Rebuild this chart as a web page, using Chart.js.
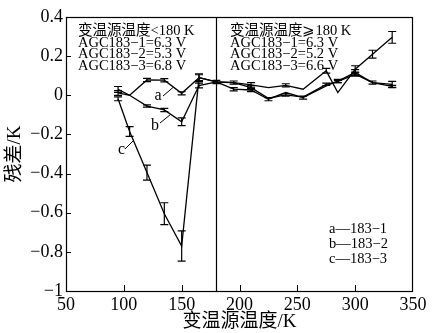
<!DOCTYPE html>
<html>
<head>
<meta charset="utf-8">
<script src="https://cdn.jsdelivr.net/npm/chart.js@4.4.0/dist/chart.umd.min.js"></script>
<style>
  body { margin: 0; background: #fff; }
  #wrap { width: 432px; height: 333px; }
</style>
</head>
<body>
<div id="wrap"><canvas id="myChart"></canvas></div>
<script>
// temperatures of the variable-temperature source (K)
var temps = [95, 105, 120, 135, 150, 165, 180, 195, 210, 225, 240, 255, 275, 285, 300, 315, 332];

// residuals (K)
var resA = [0.03, 0, 0.078, 0.077, 0.01, 0.09, 0.068, 0.031, 0.027, -0.02, 0.014, -0.012, 0.048, 0.073, 0.116, 0.065, 0.056];
var resB = [0.012, 0, -0.055, -0.075, -0.135, 0.05, 0.068, 0.065, 0.039, -0.015, 0.002, -0.009, 0.056, 0.07, 0.108, 0.065, 0.045];
var resC = [-0.018, -0.185, -0.395, -0.605, -0.77, 0.09, 0.068, 0.065, 0.053, 0.039, 0.051, 0.031, 0.125, 0.014, 0.133, 0.21, 0.296];

// error bar half widths
var errA = [0.015, 0, 0.008, 0.008, 0.008, 0.015, 0.008, 0.008, 0.008, 0.008, 0, 0.008, 0, 0.008, 0.015, 0.008, 0.015];
var errB = [0.012, 0, 0.006, 0.008, 0.02, 0.012, 0, 0.008, 0.01, 0, 0.006, 0, 0.006, 0.006, 0.01, 0, 0.006];
var errC = [0.01, 0.025, 0.038, 0.056, 0.077, 0.02, 0, 0, 0.012, 0, 0.008, 0, 0.012, 0, 0.018, 0.02, 0.03];

var xTicks = [50, 100, 150, 200, 250, 300, 350];
var yTicks = [0.4, 0.2, 0, -0.2, -0.4, -0.6, -0.8, -1];
var splitTemp = 180;

var boxLeft = ['变温源温度<180 K', 'AGC183−1=6.3 V', 'AGC183−2=5.3 V', 'AGC183−3=6.8 V'];
var boxRight = ['变温源温度⩾180 K', 'AGC183−1=6.3 V', 'AGC183−2=5.2 V', 'AGC183−3=6.6 V'];
var legendRows = ['a—183−1', 'b—183−2', 'c—183−3'];

var FONT = "'Liberation Serif', 'Noto Sans CJK SC', serif";

function pts(vals) {
  return temps.map(function (t, i) { return { x: t, y: vals[i] }; });
}
function fmt(v) {
  var r = Math.round(v * 10) / 10;
  if (r === 0) return '0';
  return (r < 0 ? '−' : '') + String(Math.abs(r));
}

var errs = [errA, errB, errC];

var decor = {
  id: 'decor',
  afterDatasetsDraw: function (chart) {
    var ctx = chart.ctx;
    var a = chart.chartArea;
    var xs = chart.scales.x, ys = chart.scales.y;
    ctx.save();
    ctx.strokeStyle = '#000';
    ctx.fillStyle = '#000';
    ctx.lineWidth = 1.2;
    // frame
    ctx.strokeRect(a.left + 0.5, a.top + 0.5, a.right - a.left - 1, a.bottom - a.top);
    // split line
    var sx = Math.round(xs.getPixelForValue(splitTemp)) + 0.5;
    ctx.beginPath(); ctx.moveTo(sx, a.top); ctx.lineTo(sx, a.bottom); ctx.stroke();
    // inward ticks
    ctx.lineWidth = 1;
    xTicks.forEach(function (t) {
      if (t === 50 || t === 350) return;
      var x = Math.round(xs.getPixelForValue(t)) + 0.5;
      ctx.beginPath(); ctx.moveTo(x, a.bottom); ctx.lineTo(x, a.bottom - 6); ctx.stroke();
    });
    yTicks.forEach(function (v) {
      if (v === 0.4 || v === -1) return;
      var y = Math.round(ys.getPixelForValue(v)) + 0.5;
      ctx.beginPath(); ctx.moveTo(a.left, y); ctx.lineTo(a.left + 5, y); ctx.stroke();
    });
    // error bars
    ctx.lineWidth = 1.2;
    chart.data.datasets.forEach(function (ds, i) {
      ds.data.forEach(function (p, j) {
        var e = errs[i][j];
        if (!e) return;
        var x = xs.getPixelForValue(p.x);
        var y1 = ys.getPixelForValue(p.y + e);
        var y2 = ys.getPixelForValue(p.y - e);
        ctx.beginPath();
        ctx.moveTo(x, y1); ctx.lineTo(x, y2);
        ctx.moveTo(x - 4, y1); ctx.lineTo(x + 4, y1);
        ctx.moveTo(x - 4, y2); ctx.lineTo(x + 4, y2);
        ctx.stroke();
      });
    });
    // curve labels with leader lines
    ctx.lineWidth = 1;
    ctx.font = '16px ' + FONT;
    ctx.textAlign = 'center';
    ctx.textBaseline = 'alphabetic';
    ctx.fillText('a', 158, 100);
    ctx.beginPath(); ctx.moveTo(163, 96); ctx.lineTo(173, 87.5); ctx.stroke();
    ctx.fillText('b', 155, 130);
    ctx.beginPath(); ctx.moveTo(160, 123); ctx.lineTo(170.5, 114.5); ctx.stroke();
    ctx.fillText('c', 121.5, 154);
    ctx.beginPath(); ctx.moveTo(125, 149); ctx.lineTo(133.5, 140.5); ctx.stroke();
    // text boxes
    ctx.textAlign = 'left';
    ctx.font = '14.5px ' + FONT;
    var base = [35, 46.5, 58, 69.5];
    boxLeft.forEach(function (s, k) { ctx.fillText(s, 78, base[k]); });
    boxRight.forEach(function (s, k) { ctx.fillText(s, 230, base[k]); });
    // legend
    ctx.font = '14.5px ' + FONT;
    var lb = [233, 248, 263];
    legendRows.forEach(function (s, k) { ctx.fillText(s, 329, lb[k]); });
    ctx.restore();
  }
};

function lineSet(label, vals) {
  return {
    label: label,
    data: pts(vals),
    borderColor: '#000',
    backgroundColor: '#000',
    borderWidth: 1.3,
    pointRadius: 0,
    tension: 0,
    fill: false
  };
}

new Chart(document.getElementById('myChart').getContext('2d'), {
  type: 'line',
  data: {
    datasets: [
      lineSet('183-1', resA),
      lineSet('183-2', resB),
      lineSet('183-3', resC)
    ]
  },
  options: {
    responsive: true,
    maintainAspectRatio: false,
    animation: false,
    layout: { padding: { top: 17, right: 19, left: 0, bottom: 0 } },
    plugins: { legend: { display: false }, tooltip: { enabled: false } },
    scales: {
      x: {
        type: 'linear',
        min: 50, max: 350,
        afterBuildTicks: function (s) { s.ticks = xTicks.map(function (v) { return { value: v }; }); },
        afterFit: function (s) { s.height = 42; },
        grid: { display: false, drawTicks: false },
        border: { display: false },
        ticks: { color: '#000', font: { family: FONT, size: 18 }, padding: 3, maxRotation: 0 },
        title: { display: true, text: '变温源温度/K', color: '#000', font: { family: FONT, size: 19 }, padding: 0 }
      },
      y: {
        min: -1, max: 0.4,
        afterBuildTicks: function (s) { s.ticks = yTicks.map(function (v) { return { value: v }; }); },
        afterFit: function (s) { s.width = 66; },
        grid: { display: false, drawTicks: false },
        border: { display: false },
        ticks: { color: '#000', font: { family: FONT, size: 18 }, padding: 3, callback: fmt },
        title: { display: true, text: '残差/K', color: '#000', font: { family: FONT, size: 19 }, padding: { top: 4, bottom: 0 } }
      }
    }
  },
  plugins: [decor]
});
</script>
</body>
</html>
